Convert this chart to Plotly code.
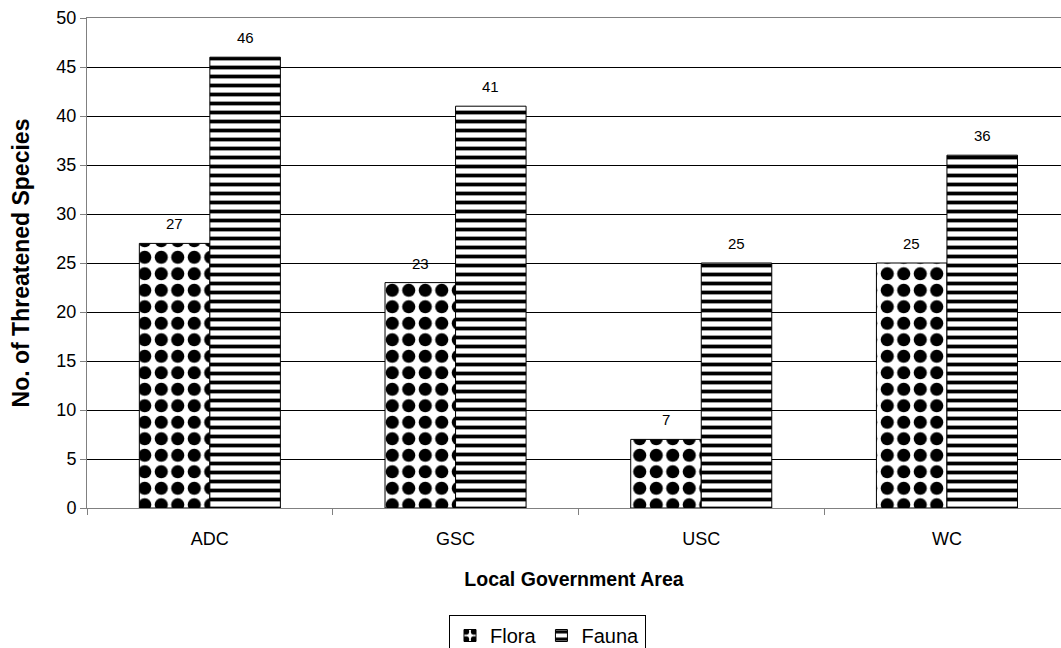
import plotly.graph_objects as go

# Threatened species counts per local government area
areas = ["ADC", "GSC", "USC", "WC"]
flora = [27, 23, 7, 25]
fauna = [46, 41, 25, 36]
y_ticks = [0, 5, 10, 15, 20, 25, 30, 35, 40, 45, 50]

FONT = "Liberation Sans, Arial, sans-serif"
W, H = 1061, 648
L, T, B = 87, 18, 140
CAT_PX = 245.7          # horizontal pixels per category slot
BARGAP = 0.426
HALF = (1 - BARGAP) / 4  # offset of each bar centre from the category centre

fig = go.Figure()
fig.add_trace(go.Bar(
    name="Flora", x=areas, y=flora,
    marker=dict(color="white", line=dict(color="black", width=1),
                pattern=dict(shape=".", fgcolor="black", bgcolor="white",
                             fgopacity=1, size=16.5, solidity=0.5,
                             fillmode="replace")),
))
fig.add_trace(go.Bar(
    name="Fauna", x=areas, y=fauna,
    marker=dict(color="white", line=dict(color="black", width=1),
                pattern=dict(shape="-", fgcolor="black", bgcolor="white",
                             fgopacity=1, size=9, solidity=0.42,
                             fillmode="replace")),
))

# value labels above each bar
for series, shift in ((flora, -HALF), (fauna, HALF)):
    for i, v in enumerate(series):
        fig.add_annotation(x=i + shift, y=v, text=str(v), showarrow=False,
                           yanchor="bottom", yshift=9,
                           font=dict(family=FONT, size=15, color="black"))

x_max = -0.5 + (W - L) / CAT_PX

fig.update_layout(
    width=W, height=H,
    margin=dict(l=L, r=0, t=T, b=B, autoexpand=False),
    paper_bgcolor="white", plot_bgcolor="white",
    barmode="group", bargap=BARGAP, bargroupgap=0,
    font=dict(family=FONT, size=18, color="black"),
    showlegend=True,
    legend=dict(orientation="h", xref="container", yref="container",
                x=449 / W, xanchor="left", y=1 - 615 / H, yanchor="top",
                bordercolor="black", borderwidth=1, bgcolor="white",
                font=dict(family=FONT, size=20), itemwidth=30,
                tracegroupgap=0),
)
fig.update_xaxes(
    type="category", range=[-0.5, x_max],
    showgrid=False, showline=True, linecolor="#808080", linewidth=1,
    mirror=True,
    ticks="outside", tickson="boundaries", ticklen=6, tickcolor="#808080",
    tickfont=dict(size=18), ticklabelstandoff=14,
    title=dict(text="<b>Local Government Area</b>", font=dict(size=19.5),
               standoff=24),
)
fig.update_yaxes(
    range=[0, 50], tickvals=y_ticks, showgrid=True, gridcolor="black",
    gridwidth=1, showline=True, linecolor="#808080", linewidth=1,
    ticks="outside", ticklen=6, tickcolor="#808080", tickfont=dict(size=18),
    zeroline=False,
    title=dict(text="<b>No. of Threatened Species</b>", font=dict(size=23),
               standoff=20),
)

fig.write_html("out.html")
